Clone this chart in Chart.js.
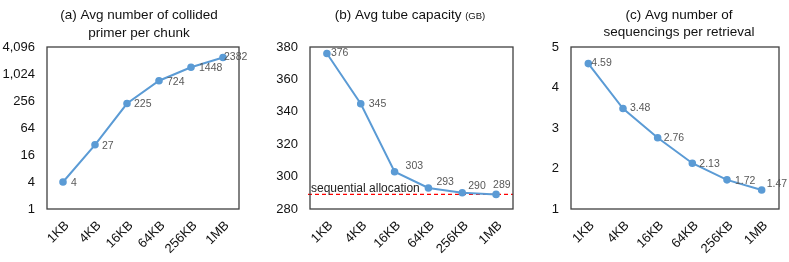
<!DOCTYPE html>
<html>
<head>
<meta charset="utf-8">
<script src="https://cdn.jsdelivr.net/npm/chart.js@4.4.1/dist/chart.umd.min.js"></script>
<style>
  body { margin: 0; background: #fff; }
  .wrap { position: relative; width: 789px; height: 262px; }
  .cell { position: absolute; top: 0; width: 263px; height: 262px; }
</style>
</head>
<body>
<div class="wrap">
  <div class="cell" style="left:0"><canvas id="chartA"></canvas></div>
  <div class="cell" style="left:263px"><canvas id="chartB"></canvas></div>
  <div class="cell" style="left:526px"><canvas id="chartC"></canvas></div>
</div>
<script>
const chunkSizes = ['1KB', '4KB', '16KB', '64KB', '256KB', '1MB'];

const collidedPrimers = [4, 27, 225, 724, 1448, 2382];
const tubeCapacity = [376, 345, 303, 293, 290, 289];
const sequencings = [4.59, 3.48, 2.76, 2.13, 1.72, 1.47];

const collidedTicks = [1, 4, 16, 64, 256, 1024, 4096];
const sequentialAllocation = 289;

const FONT = "'Liberation Sans', Arial, sans-serif";
const BLUE = '#5B9BD5';

// draws title lines, the plot frame and the value labels
const decorations = {
    id: 'decorations',
    beforeDatasetsDraw(chart, args, opts) {
        if (opts.refLine == null) return;
        const ctx = chart.ctx;
        const area = chart.chartArea;
        const y = chart.scales.y.getPixelForValue(opts.refLine);
        ctx.save();
        ctx.strokeStyle = '#FF0000';
        ctx.lineWidth = 1.2;
        ctx.setLineDash([4, 3]);
        ctx.beginPath();
        ctx.moveTo(area.left - 2, y);
        ctx.lineTo(area.right, y);
        ctx.stroke();
        ctx.setLineDash([]);
        ctx.fillStyle = '#222';
        ctx.font = '12px ' + FONT;
        ctx.textAlign = 'left';
        ctx.textBaseline = 'bottom';
        ctx.fillText(opts.refText, area.left + 1, y);
        ctx.restore();
    },
    afterDraw(chart, args, opts) {
        const ctx = chart.ctx;
        const area = chart.chartArea;
        ctx.save();
        // frame
        ctx.strokeStyle = '#404040';
        ctx.lineWidth = 1.3;
        ctx.strokeRect(area.left, area.top, area.right - area.left, area.bottom - area.top);

        // title
        const cx = opts.titleX;
        ctx.fillStyle = '#111';
        ctx.textBaseline = 'middle';
        ctx.textAlign = 'center';
        opts.title.forEach((line, i) => {
            const y = opts.titleY[i];
            if (Array.isArray(line)) {
                ctx.font = '13.5px ' + FONT;
                const w1 = ctx.measureText(line[0]).width;
                ctx.font = '9.5px ' + FONT;
                const w2 = ctx.measureText(line[1]).width;
                let x = cx - (w1 + w2) / 2;
                ctx.textAlign = 'left';
                ctx.font = '13.5px ' + FONT;
                ctx.fillText(line[0], x, y);
                ctx.font = '9.5px ' + FONT;
                ctx.fillText(line[1], x + w1, y + 1);
                ctx.textAlign = 'center';
            } else {
                ctx.font = '13.5px ' + FONT;
                ctx.fillText(line, cx, y);
            }
        });

        // value labels
        const meta = chart.getDatasetMeta(0);
        const data = chart.data.datasets[0].data;
        ctx.font = '10.5px ' + FONT;
        ctx.fillStyle = '#595959';
        ctx.textAlign = 'left';
        ctx.textBaseline = 'middle';
        meta.data.forEach((pt, i) => {
            const off = opts.labelOffsets[i];
            ctx.fillText(String(data[i]), pt.x + off[0], pt.y + off[1]);
        });
        ctx.restore();
    }
};

function makeChart(id, values, yScale, deco, rightPad, yWidth) {
    return new Chart(document.getElementById(id), {
        type: 'line',
        data: {
            labels: chunkSizes,
            datasets: [{
                data: values,
                borderColor: BLUE,
                backgroundColor: BLUE,
                borderWidth: 2,
                pointRadius: 2.8,
                pointHoverRadius: 2.8,
                tension: 0
            }]
        },
        options: {
            responsive: true,
            maintainAspectRatio: false,
            animation: false,
            layout: { padding: { top: 47, right: rightPad, left: 0, bottom: 0 } },
            plugins: {
                legend: { display: false },
                tooltip: { enabled: false },
                decorations: deco
            },
            scales: {
                x: {
                    offset: true,
                    grid: { display: false, drawTicks: false },
                    border: { display: false },
                    ticks: {
                        color: '#111',
                        font: { family: FONT, size: 13 },
                        minRotation: 45,
                        maxRotation: 45,
                        padding: 9,
                        labelOffset: 4
                    },
                    afterFit(scale) { scale.height = 53; }
                },
                y: Object.assign({
                    grid: { display: false, drawTicks: false },
                    border: { display: false },
                    afterFit(scale) { scale.width = yWidth; }
                }, yScale)
            }
        },
        plugins: [decorations]
    });
}

const yTickFont = { family: FONT, size: 13 };

makeChart('chartA', collidedPrimers, {
    type: 'logarithmic',
    min: 1,
    max: 4096,
    afterBuildTicks(scale) { scale.ticks = collidedTicks.map(v => ({ value: v })); },
    ticks: {
        color: '#111', font: yTickFont, padding: 12,
        callback: v => v.toLocaleString('en-US')
    }
}, {
    title: ['(a) Avg number of collided', 'primer per chunk'],
    titleX: 139,
    titleY: [15, 33],
    labelOffsets: [[8, 1], [7, 1], [7, 1], [8, 1], [8, 1], [1, 0]]
}, 24, 47);

makeChart('chartB', tubeCapacity, {
    min: 280,
    max: 380,
    ticks: { color: '#111', font: yTickFont, padding: 12, stepSize: 20 }
}, {
    title: [['(b) Avg tube capacity ', '(GB)']],
    titleX: 147,
    titleY: [15],
    labelOffsets: [[4, 0], [8, 0], [11, -6], [8, -6], [6, -7], [-3, -9]],
    refLine: sequentialAllocation,
    refText: 'sequential allocation'
}, 13, 47);

makeChart('chartC', sequencings, {
    min: 1,
    max: 5,
    ticks: { color: '#111', font: yTickFont, padding: 12, stepSize: 1 }
}, {
    title: ['(c) Avg number of', 'sequencings per retrieval'],
    titleX: 153,
    titleY: [15, 32],
    labelOffsets: [[3, 0], [7, 0], [6, 0], [7, 1], [8, 1], [5, -6]]
}, 10, 45);
</script>
</body>
</html>
